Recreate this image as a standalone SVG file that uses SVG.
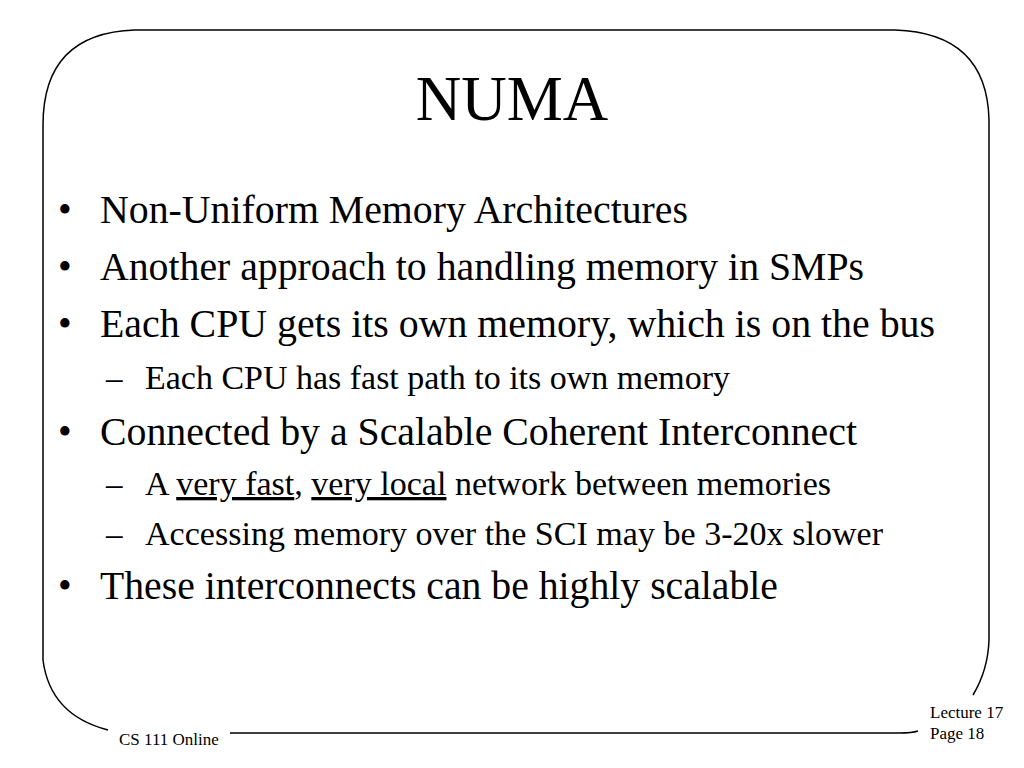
<svg xmlns="http://www.w3.org/2000/svg" width="1024" height="768" viewBox="0 0 1024 768">
<style>
.b{font-size:39px}.s{font-size:33px}.f{font-size:17px}
.fr{fill:none;stroke:#000;stroke-width:1.5}
</style>
<rect width="1024" height="768" fill="#fff"/>
<g id="frame">
<path class="fr" d="M43,660 L43,125 Q43,33 135,30 L895,30 Q987,33 989,120 L989,640 Q988,670 973,695"/>
<path class="fr" d="M43,660 Q50,715 108,730"/>
<path class="fr" d="M230,733 L900,733 Q912,733 918,731"/>
</g>
<g font-family="Liberation Serif, Times New Roman, DejaVu Serif, serif" fill="#000">
<text x="512" y="120" text-anchor="middle" font-size="63">NUMA</text>
<g id="body">
<text class="b" x="58" y="223">•</text><text class="b" x="100" y="223" textLength="588" lengthAdjust="spacingAndGlyphs">Non-Uniform Memory Architectures</text>
<text class="b" x="58" y="280">•</text><text class="b" x="100" y="280" textLength="764" lengthAdjust="spacingAndGlyphs">Another approach to handling memory in SMPs</text>
<text class="b" x="58" y="337">•</text><text class="b" x="100" y="337" textLength="835" lengthAdjust="spacingAndGlyphs">Each CPU gets its own memory, which is on the bus</text>
<text class="s" x="106" y="389">–</text><text class="s" x="145" y="389" textLength="585" lengthAdjust="spacingAndGlyphs">Each CPU has fast path to its own memory</text>
<text class="b" x="58" y="445">•</text><text class="b" x="100" y="445" textLength="757" lengthAdjust="spacingAndGlyphs">Connected by a Scalable Coherent Interconnect</text>
<text class="s" x="106" y="495">–</text><text class="s" x="145" y="495" textLength="686" lengthAdjust="spacingAndGlyphs">A <tspan text-decoration="underline">very fast</tspan>, <tspan text-decoration="underline">very local</tspan> network between memories</text>
<text class="s" x="106" y="545">–</text><text class="s" x="145" y="545" textLength="738" lengthAdjust="spacingAndGlyphs">Accessing memory over the SCI may be 3-20x slower</text>
<text class="b" x="58" y="599">•</text><text class="b" x="100" y="599" textLength="678" lengthAdjust="spacingAndGlyphs">These interconnects can be highly scalable</text>
</g>
<text class="f" x="119" y="745">CS 111 Online</text>
<text class="f" x="930" y="718">Lecture 17</text>
<text class="f" x="930" y="739">Page 18</text>
</g>
</svg>
